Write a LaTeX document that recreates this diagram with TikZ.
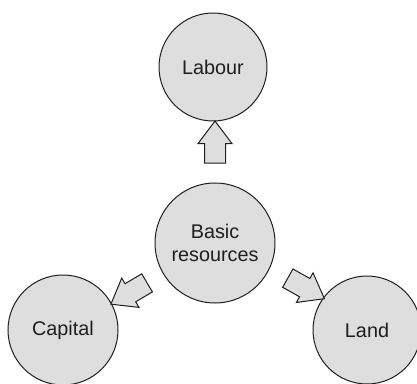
\documentclass[tikz,border=0pt]{standalone}
\usepackage{fontspec}
\setmainfont{Liberation Sans}
\usetikzlibrary{shapes.arrows}
\definecolor{circfill}{HTML}{DEDEDE}
\definecolor{inkc}{HTML}{1E1E1E}
\begin{document}
\begin{tikzpicture}[x=1pt,y=1pt,
  res/.style={circle, draw=inkc, line width=1pt, fill=circfill, text=inkc,
    inner sep=0pt, font=\fontsize{19.8}{23.5}\selectfont, align=center},
  blockarrow/.style={single arrow, draw=inkc, line width=1pt, fill=circfill,
    inner xsep=0pt, inner ysep=10pt, minimum width=0pt, minimum height=42pt,
    single arrow head extend=6.5pt, single arrow tip angle=74}]
\useasboundingbox (0,0) rectangle (417,383);
\node[res, minimum size=108pt] (labour) at (213,316) {Labour};
\node[res, minimum size=120pt] (basic) at (215,140) {Basic\\resources};
\node[res, minimum size=110pt] (capital) at (63,53) {Capital};
\node[res, minimum size=108pt] (land) at (367,53) {Land};
\node[blockarrow, rotate=90] (up) at (215,234) {};
\node[blockarrow, rotate=210.5] (toCap) at (135,93) {};
\node[blockarrow, rotate=-29.3] (toLand) at (300,98) {};
\end{tikzpicture}
\end{document}
